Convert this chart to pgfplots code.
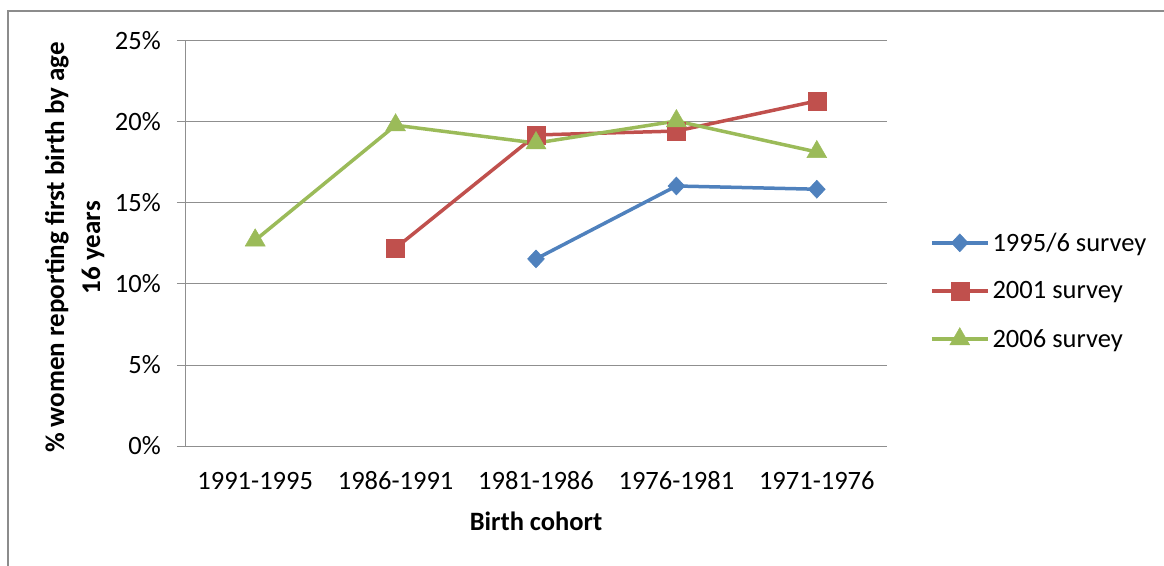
\documentclass[border=0pt]{standalone}
\usepackage{pgfplots}
\pgfplotsset{compat=1.18}
\usepackage{fontspec}
\setmainfont{Carlito}
\definecolor{cblue}{HTML}{4F81BD}
\definecolor{cred}{HTML}{C0504D}
\definecolor{cgreen}{HTML}{9BBB59}
\definecolor{gridc}{HTML}{8F8F8F}
\definecolor{framec}{HTML}{8C8C8C}
\begin{document}
\begin{tikzpicture}[x=1pt,y=1pt]
\useasboundingbox (0,0) rectangle (1164,565);
\draw[color=framec, line width=2pt] (8,-2) -- (8,554) -- (1166,554);
\begin{axis}[
  at={(185pt,119pt)}, anchor=south west,
  scale only axis, width=702pt, height=405pt,
  xmin=-0.5, xmax=4.5, ymin=0, ymax=25,
  xtick={0,1,2,3,4},
  xticklabels={1991-1995,1986-1991,1981-1986,1976-1981,1971-1976},
  ytick={0,5,10,15,20,25},
  yticklabels={0\%,5\%,10\%,15\%,20\%,25\%},
  axis x line*=bottom, axis y line*=left,
  axis line style={-, draw=gridc, line width=1pt},
  ymajorgrids, grid style={draw=gridc, line width=1pt},
  tick align=outside, major tick length=8pt,
  xtick style={draw=none},
  ytick style={draw=gridc, line width=1pt},
  font=\fontsize{26.5}{30}\selectfont,
  xticklabel style={anchor=center, yshift=-27pt},
  yticklabel style={anchor=east, inner sep=0pt, xshift=-16pt},
  xlabel={Birth cohort},
  ylabel={\% women reporting first birth by age\\[5pt]16 years},
  xlabel style={at={(rel axis cs:0.5,-0.185)}, anchor=center, font=\fontsize{26.5}{30}\selectfont\bfseries},
  ylabel style={at={(rel axis cs:-0.157,0.49)}, anchor=center, align=center, font=\fontsize{27}{31}\selectfont\bfseries},
  legend style={at={(rel axis cs:1.061,0.383)}, anchor=west, draw=none, fill=none,
    font=\fontsize{26.5}{30}\selectfont, row sep=25pt, inner sep=0pt,
    /tikz/every odd column/.append style={column sep=1pt}},
  legend cell align=left,
  legend image code/.code={\draw[mark repeat=2,mark phase=2,#1] plot coordinates {(0pt,0pt) (28pt,0pt) (56pt,0pt)};},
  every axis plot/.append style={line width=3.5pt},
]
\addplot[cblue, mark=diamond*, mark size=9pt, mark options={line width=0.5pt, xscale=1.25}] coordinates {(2,11.55) (3,16.05) (4,15.85)};
\addlegendentry{1995/6 survey}
\addplot[cred, mark=square*, mark size=9pt, mark options={line width=0.5pt}] coordinates {(1,12.22) (2,19.2) (3,19.44) (4,21.3)};
\addlegendentry{2001 survey}
\addplot[cgreen, mark=triangle*, mark size=11.5pt, mark options={line width=0.5pt}] coordinates {(0,12.7) (1,19.8) (2,18.7) (3,20.06) (4,18.15)};
\addlegendentry{2006 survey}
\end{axis}
\end{tikzpicture}
\end{document}
